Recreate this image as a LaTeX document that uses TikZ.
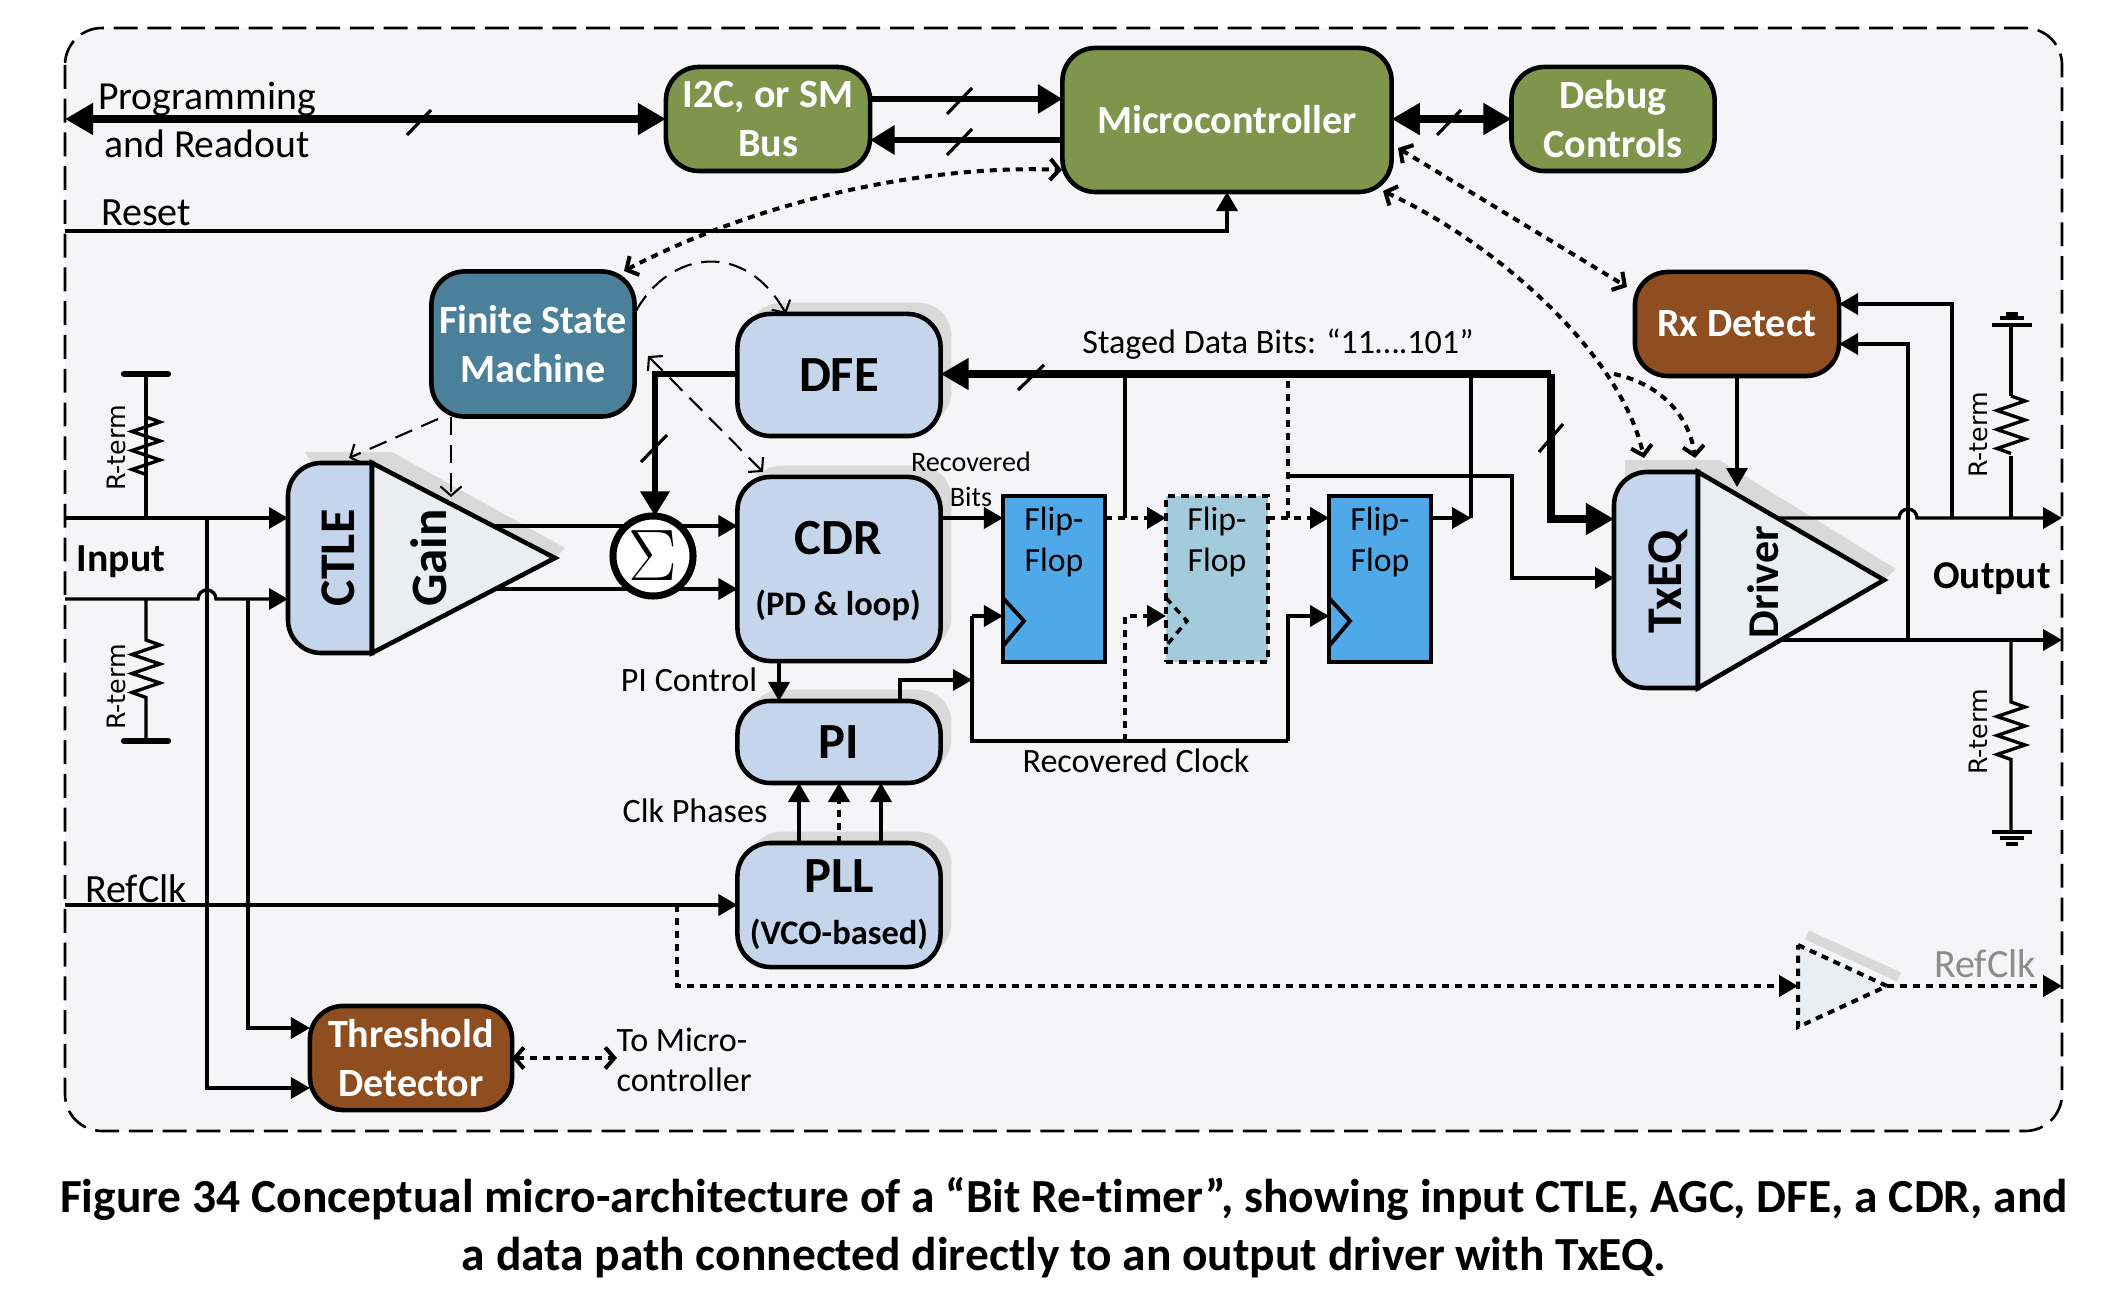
\documentclass[tikz,border=0pt]{standalone}
\usepackage{fontspec}
\setmainfont[Ligatures=CommonOff]{Carlito}
\newfontfamily\rtermfont{DejaVu Sans}
\usetikzlibrary{arrows.meta,shadows}
\definecolor{framebg}{HTML}{F5F5F7}
\definecolor{ctrlgreen}{HTML}{7F954C}
\definecolor{fsmteal}{HTML}{4A8099}
\definecolor{detbrown}{HTML}{8E4E1F}
\definecolor{lightblock}{HTML}{C5D5EB}
\definecolor{paletri}{HTML}{EAEDF2}
\definecolor{ffblue}{HTML}{4FA8E8}
\definecolor{ffpale}{HTML}{A3CBDB}
\definecolor{shadowgray}{HTML}{D9D9D9}
\newcommand{\zig}{-- ++(14,5) -- ++(-28,9.5) -- ++(28,9.5) -- ++(-28,9.5) -- ++(28,9.5) -- ++(-28,9.5) -- ++(14,5)}
\tikzset{
    block/.style={draw,line width=1.3pt,rounded corners=9.4pt,outer sep=0pt,inner sep=0pt,align=center},
    whitetxt/.style={text=white,font=\bfseries\fontsize{11.4}{13.8}\selectfont},
    greenbox/.style={block,fill=ctrlgreen,whitetxt},
    brownbox/.style={block,fill=detbrown,whitetxt},
    bluebox/.style={block,fill=lightblock,general shadow={fill=shadowgray,shadow xshift=3.1pt,shadow yshift=3.2pt}},
    bigtxt/.style={font=\bfseries\fontsize{14.4}{16}\selectfont},
    midtxt/.style={font=\bfseries\fontsize{9.8}{12}\selectfont},
    plaintxt/.style={font=\fontsize{9.7}{13}\selectfont,align=center},
    widetxt/.style={font=\fontsize{11.4}{13}\selectfont,align=center},
    rtxt/.style={font=\rtermfont\fontsize{7.2}{8}\selectfont,rotate=90},
    rottxt/.style={inner sep=0pt,font=\bfseries\fontsize{14.2}{16}\selectfont},
    ffbox/.style={draw,line width=1.1pt,outer sep=0pt,minimum width=1.02cm,minimum height=1.66cm},
    wire/.style={draw,line width=0.95pt},
    thinDash/.style={draw,line width=0.6pt,dash pattern=on 5.2pt off 2.8pt},
    dotwire/.style={draw,line width=1.15pt,dash pattern=on 2pt off 1.7pt},
    bus/.style={draw,line width=2.2pt,>={Triangle[length=8pt,width=8.6pt]}},
    midbus/.style={draw,line width=1.95pt,>={Triangle[length=7pt,width=8pt]}},
    slash/.style={draw,line width=0.9pt},
    barb/.style={>={Straight Barb[length=2.6pt,width=6pt]}},
    solidtip/.style={>={Triangle[length=5.4pt,width=6pt]}},
}
\begin{document}
\begin{tikzpicture}[x=0.01cm,y=-0.01cm,>={Triangle[length=5.4pt,width=6pt]}]
    \useasboundingbox (0,0) rectangle (2128,1307);
    \path[fill=framebg,draw,line width=0.75pt,dash pattern=on 6.8pt off 2.8pt,rounded corners=10.5pt] (65,28) rectangle (2062,1131);

    \node[greenbox,minimum width=2.04cm,minimum height=1.04cm] (i2c) at (768,119) {I2C, or SM\\Bus};
    \node[greenbox,minimum width=3.29cm,minimum height=1.44cm] (micro) at (1227,120) {Microcontroller};
    \node[greenbox,minimum width=2.03cm,minimum height=1.04cm] (debug) at (1613,119) {Debug\\Controls};
    \node[brownbox,minimum width=2.04cm,minimum height=1.04cm] (rxdet) at (1737,324) {Rx Detect};
    \node[brownbox,minimum width=2.02cm,minimum height=1.04cm] (thresh) at (411,1058) {Threshold\\Detector};
    \node[block,fill=fsmteal,whitetxt,minimum width=2.03cm,minimum height=1.45cm] (fsm) at (533,344) {Finite State\\Machine};
    \node[bluebox,bigtxt,minimum width=2.03cm,minimum height=1.22cm] (dfe) at (839,375) {DFE};
    \node[bluebox,minimum width=2.03cm,minimum height=1.84cm] (cdr) at (839,569) {};
    \node[bluebox,bigtxt,minimum width=2.03cm,minimum height=0.82cm] (pi) at (839,742) {PI};
    \node[bluebox,minimum width=2.03cm,minimum height=1.24cm] (pll) at (839,905) {};
    \node[bigtxt] (cdrtxt) at (838,538) {CDR};
    \node[midtxt] (cdrsub) at (838,605) {(PD \& loop)};
    \node[bigtxt] (plltxt) at (839,876) {PLL};
    \node[midtxt] (pllsub) at (839,934) {(VCO-based)};

    \path[fill=shadowgray] (305,452) -- (392,452) -- (565,548) -- (555,558) -- (372,558) -- cycle;
    \path[fill=shadowgray] (1625,460) -- (1719,460) -- (1896,569) -- (1884,580) -- (1698,580) -- (1625,580) -- cycle;
    \path[draw,fill=lightblock,line width=1.3pt] (372,463) [rounded corners=9.4pt] -- (288,463) -- (288,653) [sharp corners] -- (372,653) -- cycle;
    \path[draw,fill=paletri,line width=1.3pt] (372,463) -- (555,558) -- (372,653) -- cycle;
    \path[draw,fill=lightblock,line width=1.3pt] (1698,472) [rounded corners=9.4pt] -- (1614,472) -- (1614,688) [sharp corners] -- (1698,688) -- cycle;
    \path[draw,fill=paletri,line width=1.3pt] (1698,472) -- (1884,580) -- (1698,688) -- cycle;
    \node[rottxt] (ctle) at (338,558) {\rotatebox{90}{CTLE}};
    \node[rottxt,font=\bfseries\fontsize{14.5}{16}\selectfont] (gain) at (429,558) {\rotatebox{90}{Gain}};
    \node[rottxt] (txeq) at (1668,582) {\rotatebox{90}{TxEQ}};
    \node[rottxt,font=\bfseries\fontsize{12.5}{14}\selectfont] (driver) at (1763,582) {\rotatebox{90}{Driver}};

    \node[ffbox,fill=ffblue] (ff1) at (1054,579) {};
    \node[ffbox,fill=ffpale,dash pattern=on 2.1pt off 1.7pt] (ff2) at (1217,579) {};
    \node[ffbox,fill=ffblue] (ff3) at (1380,579) {};
    \path[draw,line width=1.1pt] (ff1.west |- 0,598) -- (1024,621) -- (ff1.west |- 0,646);
    \path[draw,line width=1pt,dash pattern=on 2.1pt off 1.7pt] (ff2.west |- 0,598) -- (1187,621) -- (ff2.west |- 0,646);
    \path[draw,line width=1.1pt] (ff3.west |- 0,598) -- (1350,621) -- (ff3.west |- 0,646);
    \foreach \n/\x in {flip1/1054,flip2/1217,flip3/1380} {
        \node[plaintxt,font=\fontsize{9.6}{11.4}\selectfont] (\n) at (\x,542) {Flip-\\Flop};
    }

    \path[bus,<->] (65,119) -- (i2c.west);
    \path[midbus,->] (i2c.east |- 0,99) -- (micro.west |- 0,99);
    \path[midbus,->] (micro.west |- 0,140) -- (i2c.east |- 0,140);
    \path[bus,<->] (micro.east |- 0,119) -- (debug.west |- 0,119);
    \path[slash] (407,135) -- (431,110);
    \path[slash] (947,114) -- (972,88);
    \path[slash] (947,155) -- (972,129);
    \path[slash] (1437,135) -- (1461,110);
    \path[wire,->] (65,231) -| (micro.south);

    \coordinate (fsmtop) at (624,271);
    \coordinate (microleft) at (1062,170);
    \coordinate (microse1) at (1398,148);
    \coordinate (microse2) at (1383,191);
    \coordinate (rxcorner) at (1627,287);
    \coordinate (txtop1) at (1644,458);
    \coordinate (txtop2) at (1695,458);
    \coordinate (txbranch) at (1614,374);
    \path[dotwire,barb,<->] (fsmtop) .. controls (780,190) and (950,165) .. (microleft);
    \path[dotwire,barb,<->] (microse1) -- (rxcorner);
    \path[dotwire,barb,<->] (microse2) .. controls (1490,240) and (1620,350) .. (txtop1);
    \path[dotwire,barb,->] (txbranch) .. controls (1665,385) and (1690,420) .. (txtop2);

    \path[thinDash,barb,->] (636,311) .. controls (670,250) and (745,240) .. (dfe.north -| 786,0);
    \path[thinDash,barb,->] (438,419) -- (349,458);
    \path[thinDash,barb,->] (451,417) -- (451,497);
    \path[thinDash,barb,<->] (648,356) -- (763,472);

    \coordinate (busjoin) at (1551,374);
    \coordinate (dfejoin) at (655,374);
    \path[bus,->] (busjoin) -- (dfe.east |- busjoin);
    \path[bus,->,line join=miter] (busjoin) -- (1551,519) -- (1614,519);
    \path[midbus,line join=miter,->] (dfe.west |- dfejoin) -- (dfejoin) -- (655,516);
    \path[slash] (1018,390) -- (1044,365);
    \path[slash] (1539,452) -- (1563,424);
    \path[slash] (641,462) -- (667,435);

    \path[wire,->] (65,518) -- (288,518);
    \path[wire,->] (65,599) -- (198,599) arc[start angle=180,end angle=360,radius=9] -- (288,599);
    \path[wire,->] (207,518) |- (thresh.west |- 0,1088);
    \path[wire,->] (248,599) |- (thresh.west |- 0,1028);
    \path[wire] (146,518) -- (146,476) -- ++(0,-59) -- (146,374);
    \path[wire] (146,417) \zig;
    \path[draw,line width=1.8pt,line cap=round] (124,374) -- (168,374);
    \path[wire] (146,599) -- (146,640) \zig -- (146,741);
    \path[draw,line width=1.8pt,line cap=round] (124,741) -- (168,741);

    \path[wire,->] (495,526) -- (cdr.west |- 0,526);
    \path[wire,->] (495,589) -- (cdr.west |- 0,589);
    \node[draw,circle,fill=white,line width=2pt,inner sep=0pt,minimum size=0.8cm,font=\fontsize{20}{22}\selectfont] (sum) at (653,556) {$\Sigma$};

    \path[wire,->] (cdr.east |- 0,518) -- (ff1.west |- 0,518);
    \path[dotwire,solidtip,->] (ff1.east |- 0,518) -- (ff2.west |- 0,518);
    \path[dotwire,solidtip,->] (ff2.east |- 0,518) -- (ff3.west |- 0,518);
    \path[wire,->] (ff3.east |- 0,518) -- (1471,518);
    \path[wire] (1471,518) -- (1471,374);
    \path[wire] (1125,518) -- (1125,374);
    \path[dotwire] (1288,518) -- (1288,374);
    \path[wire,->] (1288,476) -| (1512,578) -- (1614,578);

    \path[wire,->] (cdr.south -| 779,0) -- (pi.north -| 779,0);
    \path[wire,->] (pi.north -| 900,0) |- (972,680);
    \path[wire,->] (972,616) -- (ff1.west |- 0,616);
    \path[wire] (972,616) |- (1288,741);
    \path[wire,->] (1288,741) |- (ff3.west |- 0,616);
    \path[dotwire,solidtip,->] (1125,741) |- (ff2.west |- 0,616);

    \path[wire,->] (pll.north -| 799,0) -- (pi.south -| 799,0);
    \path[dotwire,solidtip,->] (pll.north -| 839,0) -- (pi.south -| 839,0);
    \path[wire,->] (pll.north -| 881,0) -- (pi.south -| 881,0);
    \path[wire,->] (65,905) -- (pll.west);

    \path[fill=paletri] (1798,945) -- (1887,986) -- (1798,1027) -- cycle;
    \path[draw=shadowgray,line width=2.8pt] (1807,935) -- (1899,977);
    \path[dotwire] (1798,945) -- (1887,986) -- (1798,1027) -- cycle;
    \coordinate (bufin) at (1798,986);
    \coordinate (bufout) at (1887,986);
    \coordinate (rightedge) at (2062,986);
    \path[dotwire,solidtip,->] (677,905) |- (bufin);
    \path[dotwire,solidtip,->] (bufout) -- (rightedge);
    \path[dotwire,barb,<->] (thresh.east) -- (617,1058);

    \path[wire,->] (1777,518) -- (1899,518) arc[start angle=180,end angle=360,radius=9] -- (2062,518);
    \path[wire,->] (1781,640) -- (2062,640);
    \path[wire,->] (1908,640) |- (rxdet.east |- 0,344);
    \path[wire,->] (1952,518) |- (rxdet.east |- 0,304);
    \path[wire,->] (rxdet.south) -- (1737,487);
    \path[wire] (2011,518) -- (2011,456);
    \path[wire] (2011,396) \zig;
    \path[wire] (2011,396) -- (2011,325);
    \path[draw,line width=1.4pt] (1992,325) -- (2032,325);
    \path[draw,line width=1.4pt] (2000,318) -- (2024,318);
    \path[draw,line width=1.4pt] (2006,314) -- (2018,314);
    \path[wire] (2011,640) -- (2011,702) \zig -- (2011,832);
    \path[draw,line width=1.4pt] (1992,832) -- (2032,832);
    \path[draw,line width=1.4pt] (2000,838) -- (2024,838);
    \path[draw,line width=1.4pt] (2006,844) -- (2018,844);

    \node[widetxt,font=\fontsize{11.3}{13.6}\selectfont] (prog) at (207,120) {Programming\\and Readout};
    \node[widetxt] (resetl) at (146,213) {Reset};
    \node[plaintxt] (stagedl) at (1278,344) {Staged Data Bits: “11….101”};
    \node[widetxt,font=\bfseries\fontsize{11.3}{13}\selectfont] (inputl) at (121,562) {Input};
    \node[widetxt,font=\bfseries\fontsize{11.2}{13}\selectfont] (outputl) at (1992,579) {Output};
    \node[plaintxt,font=\fontsize{8}{10}\selectfont] (recl) at (971,479) {Recovered\\Bits};
    \node[plaintxt] (clockl) at (1136,761) {Recovered Clock};
    \node[plaintxt] (picl) at (689,680) {PI Control};
    \node[plaintxt] (clkl) at (695,811) {Clk Phases};
    \node[widetxt] (refl) at (136,889) {RefClk};
    \node[widetxt,text=black!45] (refr) at (1985,964) {RefClk};
    \node[plaintxt,align=left,anchor=west,inner sep=0pt,font=\fontsize{9.7}{11.4}\selectfont] (tomicro) at (616,1060) {To Micro-\\controller};
    \node[rtxt] (r1) at (116,448) {R-term};
    \node[rtxt] (r2) at (116,687) {R-term};
    \node[rtxt] (r3) at (1978,435) {R-term};
    \node[rtxt] (r4) at (1978,732) {R-term};

    \node[align=center,font=\bfseries\fontsize{13.5}{16.5}\selectfont] (cap) at (1064,1228) {Figure 34 Conceptual micro-architecture of a “Bit Re-timer”, showing input CTLE, AGC, DFE, a CDR, and\\a data path connected directly to an output driver with TxEQ.};
\end{tikzpicture}
\end{document}
